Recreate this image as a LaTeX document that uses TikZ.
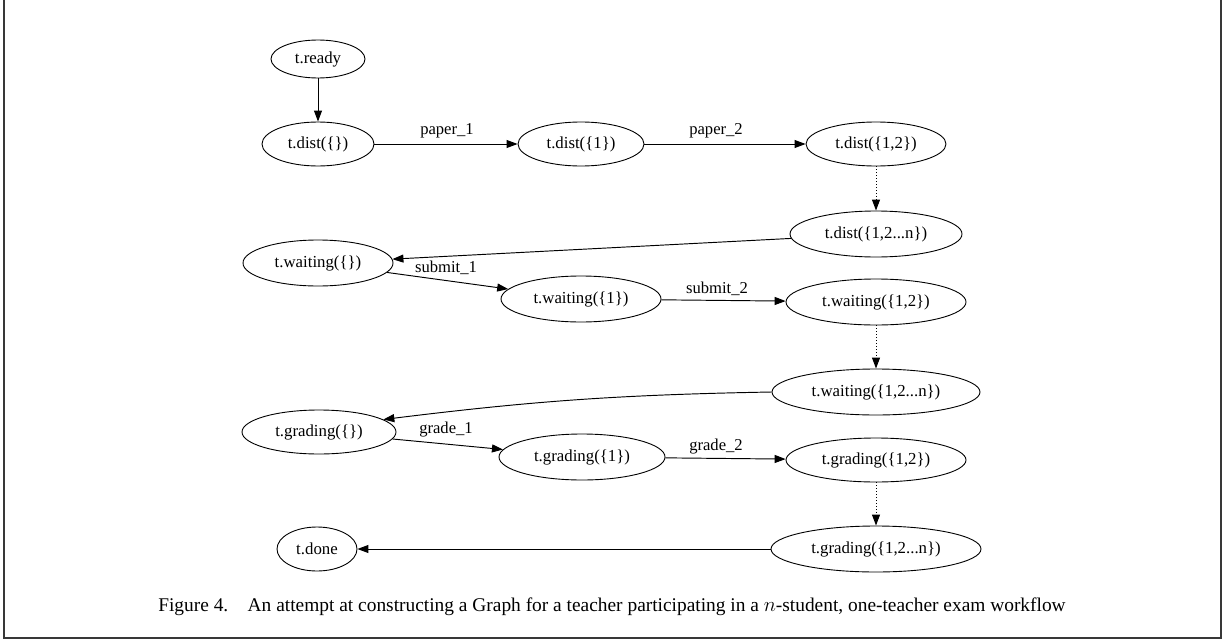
\documentclass[tikz,border=0pt]{standalone}
\usepackage{fontspec}
\setmainfont{Liberation Serif}
\usetikzlibrary{shapes.geometric,arrows.meta}
\begin{document}
\begin{tikzpicture}[x=1pt,y=-1pt,
  st/.style={draw,ellipse,inner sep=0pt,font=\fontsize{16.8}{19}\selectfont,line width=0.9pt},
  ed/.style={-{Triangle[length=11pt,width=8pt]},line width=0.95pt},
  dt/.style={ed,dotted},
  lb/.style={font=\fontsize{16.6}{19}\selectfont,inner sep=0pt},
  captxt/.style={anchor=base,inner sep=0pt,font=\fontsize{19.4}{23}\selectfont}]
\useasboundingbox (0,0) rectangle (1222,642);
\draw[line width=2pt,color=black!78] (3.5,0) -- (3.5,638) -- (1220.5,638) -- (1220.5,0);
% nodes
\node[st,minimum width=94pt,minimum height=38pt] (ready) at (318,59) {t.ready};
\node[st,minimum width=112pt,minimum height=44pt] (d0) at (318,144) {t.dist(\{\})};
\node[st,minimum width=126pt,minimum height=44pt] (d1) at (581,144) {t.dist(\{1\})};
\node[st,minimum width=140pt,minimum height=44pt] (d2) at (876,144) {t.dist(\{1,2\})};
\node[st,minimum width=172pt,minimum height=46pt] (dn) at (876,234) {t.dist(\{1,2...n\})};
\node[st,minimum width=150pt,minimum height=46pt] (w0) at (318,263) {t.waiting(\{\})};
\node[st,minimum width=160pt,minimum height=46pt] (w1) at (581,299) {t.waiting(\{1\})};
\node[st,minimum width=180pt,minimum height=46pt] (w2) at (876,302) {t.waiting(\{1,2\})};
\node[st,minimum width=208pt,minimum height=46pt] (wn) at (876,392) {t.waiting(\{1,2...n\})};
\node[st,minimum width=154pt,minimum height=44pt] (g0) at (319,432) {t.grading(\{\})};
\node[st,minimum width=166pt,minimum height=46pt] (g1) at (582,457) {t.grading(\{1\})};
\node[st,minimum width=180pt,minimum height=44pt] (g2) at (876,460) {t.grading(\{1,2\})};
\node[st,minimum width=210pt,minimum height=46pt] (gn) at (876,549) {t.grading(\{1,2...n\})};
\node[st,minimum width=80pt,minimum height=44pt] (done) at (317,549) {t.done};
% edges
\draw[ed] (ready) -- (d0);
\draw[ed] (d0) -- (d1);
\draw[ed] (d1) -- (d2);
\draw[dt] (d2) -- (dn);
\draw[ed] (dn) -- (w0);
\draw[ed] (w0) -- (w1);
\draw[ed] (w1) -- (w2);
\draw[dt] (w2) -- (wn);
\draw[ed] (wn.west) to[bend right=3] (g0.11);
\draw[ed] (g0) -- (g1);
\draw[ed] (g1) -- (g2);
\draw[dt] (g2) -- (gn);
\draw[ed] (gn) -- (done);
% labels
\node[lb] (l1) at (447,131) {paper\_1};
\node[lb] (l2) at (716,131) {paper\_2};
\node[lb] (l3) at (446,268) {submit\_1};
\node[lb] (l4) at (717,289) {submit\_2};
\node[lb] (l5) at (446,430) {grade\_1};
\node[lb] (l6) at (716,447) {grade\_2};
% caption
\node[captxt] (cap) at (612,611) {Figure 4.\hspace{1em}An attempt at constructing a Graph for a teacher participating in a $n$-student, one-teacher exam workflow};
\end{tikzpicture}
\end{document}
